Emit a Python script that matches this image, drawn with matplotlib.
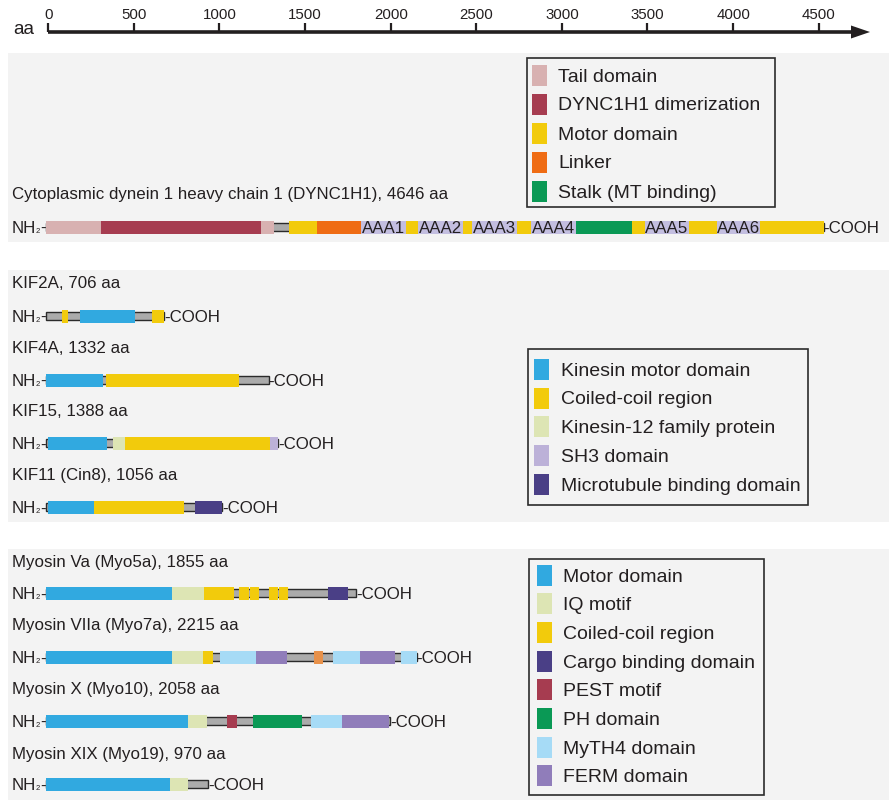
import matplotlib.pyplot as plt
from matplotlib.patches import Rectangle, Polygon

plt.rcParams['font.family'] = ['Liberation Sans', 'DejaVu Sans']

INK = '#231f20'
colors = {
    'tail': '#d8b1b1', 'dimer': '#a63c50', 'motor': '#f2cb0c', 'linker': '#ef6c14',
    'stalk': '#0a9955', 'aaa': '#c3bee0',
    'kin_motor': '#31a9e0', 'cc': '#f2cb0c', 'kin12': '#dde5b4', 'sh3': '#bcb1d8',
    'mtb': '#4a3f86',
    'iq': '#dde5b4', 'cargo': '#4a3f86', 'pest': '#a63c50', 'ph': '#0a9955',
    'myth4': '#a6dbf6', 'ferm': '#907dba', 'other': '#e8914a',
}

# ruler
ruler_ticks = [0, 500, 1000, 1500, 2000, 2500, 3000, 3500, 4000, 4500]

# cytoplasmic dynein heavy chain
dync_name = 'Cytoplasmic dynein 1 heavy chain 1 (DYNC1H1), 4646 aa'
dync_len = 4646
dync_start = [0, 331, 1287, 1453, 1618, 1884, 2150, 2225, 2494, 2545, 2815, 2898,
              3165, 3504, 3577, 3843, 4006, 4268]
dync_end = [331, 1287, 1364, 1618, 1884, 2150, 2225, 2494, 2545, 2815, 2898, 3165,
            3504, 3577, 3843, 4006, 4268, 4646]
dync_kind = ['tail', 'dimer', 'tail', 'motor', 'linker', 'aaa', 'motor', 'aaa', 'motor',
             'aaa', 'motor', 'aaa', 'stalk', 'motor', 'aaa', 'motor', 'aaa', 'motor']
aaa_labels = ['AAA1', 'AAA2', 'AAA3', 'AAA4', 'AAA5', 'AAA6']

# kinesins
kif_names = ['KIF2A, 706 aa', 'KIF4A, 1332 aa', 'KIF15, 1388 aa', 'KIF11 (Cin8), 1056 aa']
kif_len = [706, 1332, 1388, 1056]
kif_domains = [
    [(100, 137, 'cc'), (208, 534, 'kin_motor'), (637, 706, 'cc')],
    [(0, 346, 'kin_motor'), (364, 1157, 'cc')],
    [(12, 369, 'kin_motor'), (405, 472, 'kin12'), (472, 1342, 'cc'), (1342, 1388, 'sh3')],
    [(12, 292, 'kin_motor'), (292, 825, 'cc'), (893, 1056, 'mtb')],
]

# myosins
myo_names = ['Myosin Va (Myo5a), 1855 aa', 'Myosin VIIa (Myo7a), 2215 aa',
             'Myosin X (Myo10), 2058 aa', 'Myosin XIX (Myo19), 970 aa']
myo_len = [1855, 2215, 2058, 970]
myo_domains = [
    [(0, 756, 'kin_motor'), (756, 948, 'iq'), (948, 1127, 'cc'), (1157, 1213, 'cc'),
     (1219, 1273, 'cc'), (1333, 1387, 'cc'), (1393, 1447, 'cc'), (1687, 1805, 'cargo')],
    [(0, 755, 'kin_motor'), (755, 943, 'iq'), (943, 998, 'cc'), (1041, 1258, 'myth4'),
     (1258, 1442, 'ferm'), (1600, 1659, 'other'), (1716, 1880, 'myth4'),
     (1880, 2085, 'ferm'), (2120, 2215, 'myth4')],
    [(0, 852, 'kin_motor'), (852, 967, 'iq'), (1083, 1144, 'pest'), (1241, 1533, 'ph'),
     (1588, 1770, 'myth4'), (1770, 2050, 'ferm')],
    [(0, 743, 'kin_motor'), (743, 852, 'iq')],
]

dync_legend = ['Tail domain', 'DYNC1H1 dimerization', 'Motor domain', 'Linker',
               'Stalk (MT binding)']
dync_legend_kind = ['tail', 'dimer', 'motor', 'linker', 'stalk']
kif_legend = ['Kinesin motor domain', 'Coiled-coil region', 'Kinesin-12 family protein',
              'SH3 domain', 'Microtubule binding domain']
kif_legend_kind = ['kin_motor', 'cc', 'kin12', 'sh3', 'mtb']
myo_legend = ['Motor domain', 'IQ motif', 'Coiled-coil region', 'Cargo binding domain',
              'PEST motif', 'PH domain', 'MyTH4 domain', 'FERM domain']
myo_legend_kind = ['kin_motor', 'iq', 'cc', 'cargo', 'pest', 'ph', 'myth4', 'ferm']

W, H = 891, 801
fig = plt.figure(figsize=(W / 100, H / 100), dpi=100)

# layout layer in pixel units
bg = fig.add_axes([0, 0, 1, 1])
bg.set_xlim(0, W)
bg.set_ylim(H, 0)
bg.axis('off')
for top, bottom in [(53, 242), (270, 522), (549, 800)]:
    bg.add_patch(Rectangle((8, top), 881, bottom - top, fc='#f3f3f3', ec='none'))

# ruler on its own scale
ru = fig.add_axes([0, 0, 1, 1], facecolor='none')
r_scale, r_x0 = 0.1712, 48.3
ru.set_xlim(-r_x0 / r_scale, (W - r_x0) / r_scale)
ru.set_ylim(H, 0)
ru.axis('off')
tip = (870 - r_x0) / r_scale
base = (851 - r_x0) / r_scale
ru.plot([ruler_ticks[0], base], [32, 32], color=INK, lw=2.6, solid_capstyle='butt')
ru.add_patch(Polygon([(base, 25.5), (tip, 32), (base, 38.5)], closed=True, fc=INK, ec='none'))
for t in ruler_ticks:
    ru.plot([t, t], [23, 32], color=INK, lw=1.6, solid_capstyle='butt')
    ru.text(t, 13.3, str(t), ha='center', va='center_baseline', fontsize=10.8, color=INK)
ru.text(-203, 28, 'aa', ha='left', va='center_baseline', fontsize=13.7, color=INK)

# protein layer: x in amino acids
ax = fig.add_axes([0, 0, 1, 1], facecolor='none')
s, x0 = 0.1675, 45.5
ax.set_xlim(-x0 / s, (W - x0) / s)
ax.set_ylim(H, 0)
ax.axis('off')

FS = 12.2
SUB = 5.5
half_cap = 0.716 * FS * 100 / 72 / 2   # px from cap centre to baseline


def n_terminus(y):
    # "NH" + small subscript "2" + "-", stacked leftwards from the chain start
    yb = y + half_cap
    dash_w = 0.333 * FS
    two_w = 0.556 * SUB
    ax.annotate('-', (0, yb), xytext=(0, 0), textcoords='offset points',
                ha='right', va='baseline', fontsize=FS, color=INK)
    ax.annotate('2', (0, yb), xytext=(-dash_w, 0), textcoords='offset points',
                ha='right', va='baseline', fontsize=SUB, color=INK)
    ax.annotate('NH', (0, yb), xytext=(-dash_w - two_w, 0), textcoords='offset points',
                ha='right', va='baseline', fontsize=FS, color=INK)


def draw_protein(name, length, domains, y_name, y_bar):
    bg.text(12, y_name, name, ha='left', va='center_baseline', fontsize=FS, color=INK)
    ax.barh(y_bar, length, left=0, height=8, color='#ababab', edgecolor='#2b2b2b',
            linewidth=1.0)
    for start, end, kind in domains:
        ax.barh(y_bar, end - start, left=start, height=13, color=colors[kind], linewidth=0)
    n_terminus(y_bar)
    ax.text(length, y_bar + half_cap, '-COOH', ha='left', va='baseline', fontsize=FS,
            color=INK)


dync_domains = list(zip(dync_start, dync_end, dync_kind))
draw_protein(dync_name, dync_len, dync_domains, 192.5, 227)
aaa_segments = [(a, b) for a, b, k in dync_domains if k == 'aaa']
for (a, b), lab in zip(aaa_segments, aaa_labels):
    ax.text((a + b) / 2, 227 + half_cap, lab, ha='center', va='baseline', fontsize=FS,
            color=INK)

for name, length, doms, yn, yb in zip(kif_names, kif_len, kif_domains,
                                      [282.5, 346.7, 410, 474], [316, 380, 443.3, 507.3]):
    draw_protein(name, length, doms, yn, yb)

for name, length, doms, yn, yb in zip(myo_names, myo_len, myo_domains,
                                      [561.3, 624.2, 688.3, 752.5], [593.3, 657.3, 721, 784.3]):
    draw_protein(name, length, doms, yn, yb)


def draw_legend(box, first_y, step, sw_x, txt_x, labels, kinds):
    left, top, right, bottom = box
    bg.add_patch(Rectangle((left, top), right - left, bottom - top, fill=False,
                           ec='#2b2b2b', lw=1.2))
    for i, (lab, kind) in enumerate(zip(labels, kinds)):
        y = first_y + step * i
        bg.add_patch(Rectangle((sw_x, y - 10.5), 14.5, 21, fc=colors[kind], ec='none'))
        bg.text(txt_x, y, lab, ha='left', va='center_baseline', fontsize=14, color=INK)


draw_legend((527, 58, 775, 207), 75, 29, 532.3, 558.3, dync_legend, dync_legend_kind)
draw_legend((527.5, 348.5, 808, 504.5), 369.3, 28.7, 534, 560.7, kif_legend, kif_legend_kind)
draw_legend((528.5, 558.5, 764, 795), 575, 28.7, 537.3, 563.3, myo_legend, myo_legend_kind)

fig.savefig('out.png', dpi=100)
